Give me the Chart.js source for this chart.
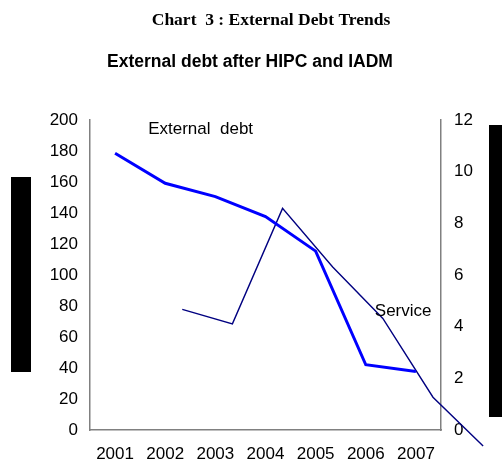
<!DOCTYPE html>
<html>
<head>
<meta charset="utf-8">
<script src="https://cdn.jsdelivr.net/npm/chart.js@4"></script>
<style>
  body { margin: 0; background: #fff; }
  #wrap { width: 502px; height: 463px; position: relative; }
</style>
</head>
<body>
<div id="wrap"><canvas id="debtChart" width="502" height="463"></canvas></div>
<script>
// categories (x axis)
const years = ['2001', '2002', '2003', '2004', '2005', '2006', '2007'];
// external debt, left axis
const externalDebt = [178.5, 159.2, 150.6, 137.7, 115.4, 42.1, 37.7];
// debt service, right axis (plotted on a shifted secondary category position)
const debtService = [4.67, 4.11, 8.58, 6.31, 4.32, 1.27, -0.62];
const servicePos = [1.34, 2.34, 3.34, 4.34, 5.34, 6.34, 7.34];

// ticks
const leftTicks = { min: 0, max: 200, step: 20 };
const rightTicks = { min: 0, max: 12, step: 2 };

// texts
const chartTitle = 'Chart  3 : External Debt Trends';
const chartSubtitle = 'External debt after HIPC and IADM';
const debtLabel = 'External  debt';
const serviceLabel = 'Service';

const font = '"Liberation Sans", Arial, sans-serif';

// titles, in-plot labels and the two black blocks beside the axes
const decorPlugin = {
    id: 'decor',
    afterDraw(chart) {
        const ctx = chart.ctx;
        const a = chart.chartArea;
        const x = chart.scales.x, yl = chart.scales.y, yr = chart.scales.y2;
        ctx.save();
        ctx.fillStyle = '#000';
        ctx.textBaseline = 'alphabetic';

        ctx.font = 'bold 17.5px "Liberation Serif", "Times New Roman", serif';
        ctx.textAlign = 'center';
        ctx.fillText(chartTitle, 271, 24.5);

        ctx.font = 'bold 17.5px ' + font;
        ctx.fillText(chartSubtitle, 250, 66.5);

        ctx.font = '17px ' + font;
        ctx.textAlign = 'left';
        ctx.fillText(debtLabel, x.getPixelForValue(0.66), yl.getPixelForValue(191));
        ctx.fillText(serviceLabel, x.getPixelForValue(5.18), yr.getPixelForValue(4.41));

        // black blocks (rotated axis titles in the source)
        ctx.fillRect(a.left - 79, a.top + 57, 20, 195);
        ctx.fillRect(a.right + 48, a.top + 5, 20, 292);
        ctx.restore();
    }
};

const ctx = document.getElementById('debtChart').getContext('2d');

new Chart(ctx, {
    type: 'line',
    data: {
        datasets: [
            {
                label: 'External debt',
                data: externalDebt.map((v, i) => ({ x: i, y: v })),
                borderColor: '#0000ff',
                borderWidth: 3,
                pointRadius: 0,
                tension: 0,
                yAxisID: 'y',
                clip: false,
            },
            {
                label: 'Service',
                data: debtService.map((v, i) => ({ x: servicePos[i], y: v })),
                borderColor: '#000080',
                borderWidth: 1.4,
                pointRadius: 0,
                tension: 0,
                yAxisID: 'y2',
                clip: false,
            },
        ],
    },
    options: {
        responsive: false,
        animation: false,
        layout: { padding: { top: 120, left: 0, right: 0, bottom: 0 } },
        plugins: {
            legend: { display: false },
            tooltip: { enabled: false },
        },
        scales: {
            x: {
                type: 'linear',
                min: -0.5,
                max: 6.5,
                grid: { display: false, drawTicks: false },
                border: { color: '#808080', width: 1.5 },
                afterBuildTicks: (scale) => {
                    scale.ticks = years.map((y, i) => ({ value: i }));
                },
                afterFit: (scale) => { scale.height = 33; },
                ticks: {
                    padding: 14,
                    color: '#000',
                    font: { family: font, size: 17 },
                    maxRotation: 0,
                    autoSkip: false,
                    callback: (value) => years[value],
                },
            },
            y: {
                position: 'left',
                min: leftTicks.min,
                max: leftTicks.max,
                grid: { display: false, drawTicks: false },
                border: { color: '#808080', width: 1.5 },
                afterFit: (scale) => { scale.width = 90; },
                ticks: {
                    stepSize: leftTicks.step,
                    padding: 12,
                    color: '#000',
                    font: { family: font, size: 17 },
                },
            },
            y2: {
                position: 'right',
                min: rightTicks.min,
                max: rightTicks.max,
                grid: { display: false, drawTicks: false },
                border: { color: '#808080', width: 1.5 },
                afterFit: (scale) => { scale.width = 61; },
                ticks: {
                    stepSize: rightTicks.step,
                    padding: 13,
                    color: '#000',
                    font: { family: font, size: 17 },
                },
            },
        },
    },
    plugins: [decorPlugin],
});
</script>
</body>
</html>
